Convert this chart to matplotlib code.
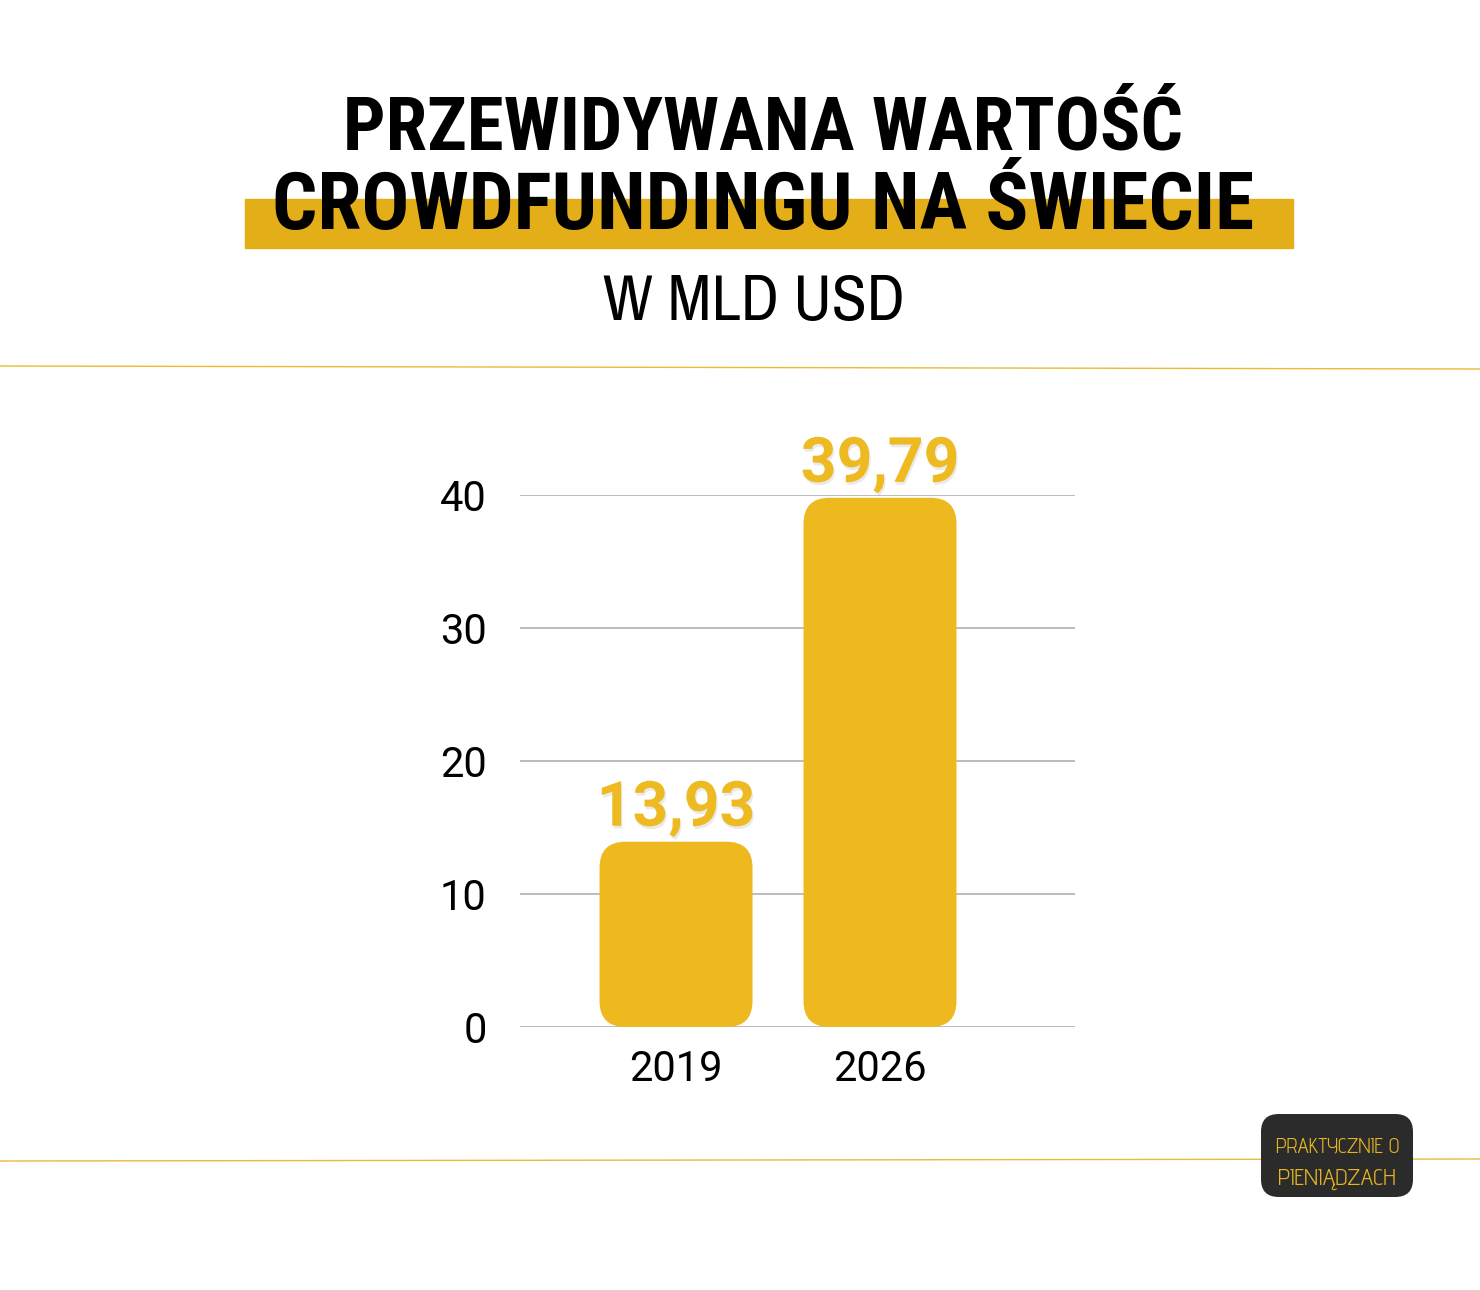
"""
Przewidywana wartosc crowdfundingu na swiecie (w mld USD) - bar chart.
"""
import matplotlib
matplotlib.use("Agg")
import matplotlib.pyplot as plt
from matplotlib.patches import FancyBboxPatch, Rectangle
import matplotlib.patheffects as pe

# Data
YEARS = ["2019", "2026"]
VALUES = [13.93, 39.79]
LABELS = ["13,93", "39,79"]
Y_TICKS = [0, 10, 20, 30, 40]

TITLE_1 = "PRZEWIDYWANA WARTOŚĆ"
TITLE_2 = "CROWDFUNDINGU NA ŚWIECIE"
SUBTITLE = "W MLD USD"
LOGO_1 = "PRAKTYCZNIE O"
LOGO_2 = "PIENIĄDZACH"

BAR_COLOR = "#EEB91F"
LABEL_COLOR = "#EDBA22"
HIGHLIGHT = "#E3AE18"
LINE_COLOR = "#E9BC35"

TITLE_FONT = ["Roboto Condensed", "DejaVu Sans"]
SUB_FONT = ["Archivo Narrow", "Roboto Condensed", "DejaVu Sans"]
TICK_FONT = ["Roboto", "DejaVu Sans"]
LOGO_FONT = ["Advent Pro", "DejaVu Sans"]

W, H = 1480, 1290


def fx(px):
    return px / W


def fy(py):
    return 1 - py / H


def fit_width(fig, txt, target_px):
    # scale font size so the text spans the wanted width
    r = fig.canvas.get_renderer()
    w = txt.get_window_extent(r).width
    txt.set_fontsize(txt.get_fontsize() * target_px / w)


def main():
    fig = plt.figure(figsize=(W / 100, H / 100), dpi=100)
    fig.patch.set_facecolor("white")
    fig.canvas.draw()

    # title block
    fig.patches.append(Rectangle((fx(245), fy(248)), fx(1293) - fx(245), fy(199) - fy(248),
                                 transform=fig.transFigure, color=HIGHLIGHT, zorder=0))
    t1 = fig.text(fx(763), fy(150), TITLE_1, ha="center", va="baseline", fontsize=54,
                  fontweight="bold", family=TITLE_FONT, color="black")
    t2 = fig.text(fx(763), fy(229), TITLE_2, ha="center", va="baseline", fontsize=54,
                  fontweight="bold", family=TITLE_FONT, color="black", zorder=2)
    fit_width(fig, t1, 840)
    fit_width(fig, t2, 983)
    st = fig.text(fx(754), fy(320), SUBTITLE, ha="center", va="baseline", fontsize=48,
                  family=SUB_FONT, color="black")
    fit_width(fig, st, 302)

    # separator lines
    fig.add_artist(plt.Line2D([0, 1], [fy(366), fy(369)], transform=fig.transFigure,
                              color=LINE_COLOR, lw=1))
    fig.add_artist(plt.Line2D([0, 1], [fy(1161), fy(1159)], transform=fig.transFigure,
                              color=LINE_COLOR, lw=1))

    # chart
    ax = fig.add_axes([fx(520), fy(1027), fx(1075) - fx(520), fy(495) - fy(1027)])
    ax.set_xlim(-0.765, 1.956)
    ax.set_ylim(0, 40)
    ax.set_yticks(Y_TICKS)
    ax.set_yticklabels([str(t) for t in Y_TICKS], fontsize=30, family=TICK_FONT)
    ax.set_xticks(range(len(YEARS)))
    ax.set_xticklabels(YEARS, fontsize=30, family=TICK_FONT)
    ax.tick_params(axis="both", length=0, colors="black")
    ax.tick_params(axis="y", pad=24)
    ax.tick_params(axis="x", pad=16)
    for s in ax.spines.values():
        s.set_visible(False)
    ax.grid(axis="y", color="#b0b0b0", lw=1.2)
    ax.set_axisbelow(True)

    # rounded bars
    fig.canvas.draw()
    p0 = ax.transData.transform((0, 0))
    p1 = ax.transData.transform((1, 1))
    aspect = (p1[0] - p0[0]) / (p1[1] - p0[1])
    width = 0.75
    radius = 26 / (p1[0] - p0[0])
    for i, v in enumerate(VALUES):
        bar = FancyBboxPatch((i - width / 2, 0), width, v,
                             boxstyle=f"round,pad=0,rounding_size={radius}",
                             mutation_aspect=aspect, facecolor=BAR_COLOR,
                             edgecolor="none", zorder=3)
        ax.add_patch(bar)
        ax.text(i, v + 1.2, LABELS[i], ha="center", va="baseline", fontsize=45,
                fontweight="bold", family="Roboto", color=LABEL_COLOR, clip_on=False,
                path_effects=[pe.withSimplePatchShadow(offset=(1, -2), shadow_rgbFace="#999999", alpha=0.2)])

    # logo
    fig.patches.append(FancyBboxPatch((fx(1261), fy(1197)), fx(1413) - fx(1261), fy(1114) - fy(1197),
                                      boxstyle="round,pad=0,rounding_size=0.012",
                                      mutation_aspect=W / H, transform=fig.transFigure,
                                      facecolor="#2b2b2b", edgecolor="none", zorder=3))
    l1 = fig.text(fx(1338), fy(1152), LOGO_1, ha="center", va="baseline", fontsize=16,
                  family=LOGO_FONT, color="#E6B520", zorder=4)
    l2 = fig.text(fx(1337), fy(1185), LOGO_2, ha="center", va="baseline", fontsize=16,
                  family=LOGO_FONT, color="#E6B520", zorder=4)
    fit_width(fig, l1, 123)
    fit_width(fig, l2, 118)

    fig.savefig("out.png", dpi=100, facecolor="white")


if __name__ == "__main__":
    main()
